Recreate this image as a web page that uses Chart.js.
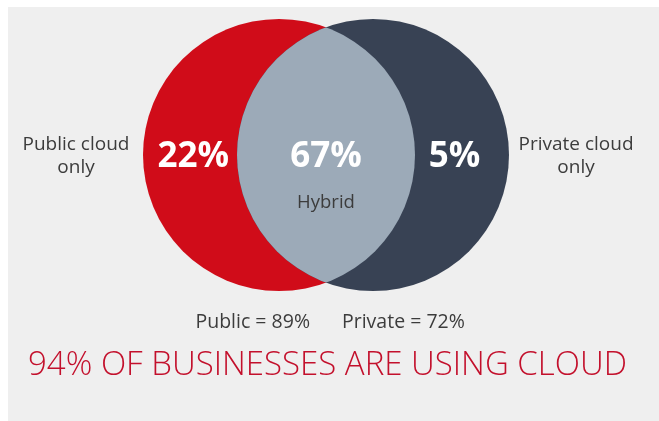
<!DOCTYPE html>
<html>
<head>
<meta charset="utf-8">
<script src="https://cdn.jsdelivr.net/npm/chart.js@4/dist/chart.umd.min.js"></script>
<style>
  html, body { margin: 0; padding: 0; background: #ffffff; }
  #wrap  { position: relative; width: 659px; height: 421px; overflow: hidden; }
  #panel { position: absolute; left: 8px; top: 7px; right: 0; bottom: 0; background: #efefef; }
  #venn  { position: absolute; left: 0; top: 0; }
</style>
</head>
<body>
<div id="wrap">
  <div id="panel"></div>
  <canvas id="venn" width="659" height="421"></canvas>
</div>
<script>
// ── Data ──────────────────────────────────────────────────────────────────────
const circles      = ["Public", "Private"];
const circleTotals = [89, 72];                       // % using each kind of cloud
const regions      = ["Public cloud only", "Hybrid", "Private cloud only"];
const regionShares = [22, 67, 5];                    // % in each region of the venn
const usingCloud   = 94;

// ── Look ─────────────────────────────────────────────────────────────────────
const FONT       = "'Open Sans', 'Noto Sans', sans-serif";
const RED        = "#d00c19";
const DARK       = "#384254";
const LENS       = "#9caab8";
const TEXT       = "#3c3c3c";
const HEAD_RED   = "#c3102c";
const RADIUS     = 136;

// ── Lens + labels plugin ──────────────────────────────────────────────────────
const vennPlugin = {
    id: "venn",
    afterDatasetsDraw(chart) {
        const ctx = chart.ctx;
        const [a, b] = chart.getDatasetMeta(0).data;
        const r = a.options.radius;

        // overlap of the two circles
        ctx.save();
        ctx.beginPath();
        ctx.arc(a.x, a.y, r, 0, Math.PI * 2);
        ctx.clip();
        ctx.beginPath();
        ctx.arc(b.x, b.y, r, 0, Math.PI * 2);
        ctx.fillStyle = LENS;
        ctx.fill();
        ctx.restore();

        const mid = (a.x + b.x) / 2;
        const cy  = a.y;

        ctx.save();
        ctx.textAlign = "center";
        ctx.textBaseline = "alphabetic";

        // region shares
        ctx.fillStyle = "#ffffff";
        ctx.font = `bold 35px ${FONT}`;
        ctx.fillText(regionShares[0] + "%", a.x - 0.63 * r, cy + 12);
        ctx.fillText(regionShares[1] + "%", mid, cy + 12);
        ctx.fillText(regionShares[2] + "%", b.x + 0.6 * r, cy + 12);

        // region names
        ctx.fillStyle = TEXT;
        ctx.font = `18.5px ${FONT}`;
        ctx.fillText(regions[1], mid, cy + 53);

        ctx.font = `19px ${FONT}`;
        const leftName  = regions[0].replace(" only", "");
        const rightName = regions[2].replace(" only", "");
        ctx.fillText(leftName,  a.x - r - 67, cy - 5);
        ctx.fillText("only",    a.x - r - 67, cy + 18);
        ctx.fillText(rightName, b.x + r + 67, cy - 5);
        ctx.fillText("only",    b.x + r + 67, cy + 18);

        // totals under the circles
        ctx.font = `19.5px ${FONT}`;
        ctx.textAlign = "right";
        ctx.fillText(`${circles[0]} = ${circleTotals[0]}%`, mid - 16, cy + 173);
        ctx.textAlign = "left";
        ctx.fillText(`${circles[1]} = ${circleTotals[1]}%`, mid + 16, cy + 173);

        // headline
        ctx.textAlign = "center";
        ctx.fillStyle = HEAD_RED;
        ctx.font = `300 33px ${FONT}`;
        ctx.fillText(`${usingCloud}% OF BUSINESSES ARE USING CLOUD`, 327.5, cy + 220);
        ctx.restore();
    }
};

// ── Chart ─────────────────────────────────────────────────────────────────────
// circle centres sit at x = 0 and 1 on the x scale, 94px apart
const UNIT = 94;
new Chart(document.getElementById("venn"), {
    type: "bubble",
    data: {
        datasets: [{
            data: circles.map((c, i) => ({ x: i, y: 0, r: RADIUS })),
            backgroundColor: [RED, DARK],
            borderWidth: 0,
            hoverBorderWidth: 0,
            clip: false,
        }],
    },
    options: {
        responsive: false,
        animation: false,
        events: [],
        layout: { padding: 0, autoPadding: false },
        plugins: { legend: { display: false }, tooltip: { enabled: false } },
        scales: {
            x: { type: "linear", display: false, min: -279 / UNIT, max: (659 - 279) / UNIT },
            y: { type: "linear", display: false, min: -(421 - 155), max: 155 },
        },
    },
    plugins: [vennPlugin],
});
</script>
</body>
</html>
